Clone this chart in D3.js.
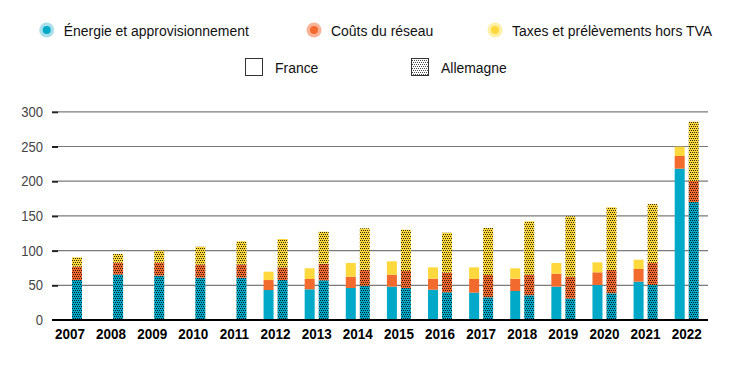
<!DOCTYPE html>
<html>
<head>
<meta charset="utf-8">
<script src="https://cdn.jsdelivr.net/npm/d3@7"></script>
<style>
  html, body { margin: 0; padding: 0; background: #ffffff; }
  text { font-family: "Liberation Sans", Arial, Helvetica, sans-serif; }
</style>
</head>
<body>
<script>
// ---------- DATA ----------
const years = [2007, 2008, 2009, 2010, 2011, 2012, 2013, 2014, 2015, 2016, 2017, 2018, 2019, 2020, 2021, 2022];
const countries = ["France", "Allemagne"];
const seriesNames = ["Énergie et approvisionnement", "Coûts du réseau", "Taxes et prélèvements hors TVA"];
const yTicks = [0, 50, 100, 150, 200, 250, 300];

// France (no data 2007-2011)
const franceEnergie = [null, null, null, null, null, 43.2, 44.2, 46.1, 48.0, 43.7, 39.4, 41.8, 48.0, 50.4, 55.2, 218.0];
const franceReseau  = [null, null, null, null, null, 14.4, 14.9, 16.3, 17.3, 15.8, 19.7, 17.7, 18.7, 18.3, 18.3, 18.3];
const franceTaxes   = [null, null, null, null, null, 12.0, 15.4, 19.7, 19.3, 16.4, 16.8, 15.0, 15.4, 14.4, 13.4, 13.4];

// Allemagne
const allemagneEnergie = [57.6, 65.3, 63.9, 61.0, 61.0, 57.6, 57.2, 49.4, 46.1, 39.9, 32.7, 35.6, 30.7, 38.5, 50.4, 170.0];
const allemagneReseau  = [19.2, 17.3, 18.7, 18.7, 19.2, 18.3, 23.9, 23.1, 24.5, 28.3, 32.1, 29.7, 31.7, 33.5, 31.7, 30.3];
const allemagneTaxes   = [13.5, 12.5, 17.3, 25.9, 33.2, 40.8, 46.1, 59.6, 59.5, 57.6, 67.8, 76.9, 87.0, 90.4, 85.0, 85.4];

// ---------- STYLE ----------
const colors = ["#00a9c7", "#f26a2e", "#ffd83d"];
const haloColors = ["#a9dfeb", "#f9b497", "#fff0a6"];
const condense = 0.93;

const W = 732, H = 365;
const svg = d3.select("body").append("svg").attr("width", W).attr("height", H);

// patterns for Allemagne (dotted, offset rows)
const defs = svg.append("defs");
const dotCells = [[0, 0], [2, 0], [1, 2], [3, 2]];
function makePattern(id, bg, op) {
  const p = defs.append("pattern").attr("id", id)
    .attr("patternUnits", "userSpaceOnUse").attr("width", 4).attr("height", 4);
  p.append("rect").attr("width", 4).attr("height", 4).attr("fill", bg);
  p.selectAll("rect.dot").data(dotCells).join("rect").attr("class", "dot")
    .attr("x", d => d[0]).attr("y", d => d[1]).attr("width", 1).attr("height", 1)
    .attr("fill", "#000").attr("fill-opacity", op);
}
colors.forEach((c, i) => makePattern("pat" + i, c, 0.8));
makePattern("patLegend", "#ffffff", 0.7);

// ---------- SCALES ----------
const y = d3.scaleLinear().domain([0, 300]).range([320, 111.8]);
const x0 = d3.scaleBand().domain(years).range([58, 698.7]).paddingInner(0.416).paddingOuter(0);
const x1 = d3.scaleBand().domain(countries).range([0, x0.bandwidth()]).paddingInner(4 / 14).paddingOuter(0);

// ---------- GRID + Y AXIS ----------
const gridG = svg.append("g");
gridG.selectAll("line.grid").data(yTicks.filter(d => d > 0)).join("line")
  .attr("class", "grid")
  .attr("x1", 58).attr("x2", 708)
  .attr("y1", d => y(d)).attr("y2", d => y(d))
  .attr("stroke", "#7a7a7a").attr("stroke-width", 1.2);

const yAxis = d3.axisLeft(y).tickValues(yTicks).tickSize(6).tickPadding(9).tickFormat(d3.format("d"));
const yG = svg.append("g").attr("transform", "translate(58,0)").call(yAxis);
yG.select(".domain").remove();
yG.selectAll(".tick line").attr("stroke", "#222").attr("stroke-width", 2);
yG.selectAll(".tick text").attr("fill", "#444").style("font-size", "14.5px")
  .style("font-family", '"Liberation Sans", Arial, sans-serif')
  .attr("x", -15 / 0.9).attr("transform", "scale(0.9,1)");
yG.selectAll(".tick").filter(d => d === 0).select("line").remove();

// ---------- BARS ----------
const rows = years.map((yr, i) => ({
  year: yr,
  France: [franceEnergie[i], franceReseau[i], franceTaxes[i]],
  Allemagne: [allemagneEnergie[i], allemagneReseau[i], allemagneTaxes[i]]
}));

const barsG = svg.append("g");
rows.forEach(r => {
  countries.forEach(c => {
    const vals = r[c];
    if (vals[0] == null) return;
    let cum = 0;
    vals.forEach((v, k) => {
      const y0 = cum, y1v = cum + v;
      cum = y1v;
      barsG.append("rect")
        .attr("x", x0(r.year) + x1(c))
        .attr("width", x1.bandwidth())
        .attr("y", y(y1v))
        .attr("height", y(y0) - y(y1v))
        .attr("fill", c === "France" ? colors[k] : "url(#pat" + k + ")");
    });
  });
});

// baseline
svg.append("line").attr("x1", 52).attr("x2", 708).attr("y1", y(0)).attr("y2", y(0))
  .attr("stroke", "#000").attr("stroke-width", 2);

// ---------- X AXIS ----------
const xAxis = d3.axisBottom(x0).tickSize(0).tickPadding(9);
const xG = svg.append("g").attr("transform", `translate(0,${y(0)})`).call(xAxis);
xG.select(".domain").remove();
xG.selectAll(".tick text").attr("fill", "#000").style("font-size", "14.5px").style("font-weight", "bold")
  .style("font-family", '"Liberation Sans", Arial, sans-serif')
  .attr("transform", "scale(0.93,1)");

// ---------- LEGEND ----------
const legend1X = [46.7, 314, 495];
const leg1 = svg.append("g");
seriesNames.forEach((name, i) => {
  leg1.append("circle").attr("cx", legend1X[i]).attr("cy", 30).attr("r", 7.5).attr("fill", haloColors[i]);
  leg1.append("circle").attr("cx", legend1X[i]).attr("cy", 30).attr("r", 4).attr("fill", colors[i]);
  leg1.append("text").attr("transform", `translate(${legend1X[i] + 17},35.5) scale(${condense},1)`).text(name)
    .attr("fill", "#111").style("font-size", "15px");
});

const legend2X = [245, 411];
countries.forEach((name, i) => {
  svg.append("rect").attr("x", legend2X[i] + 0.5).attr("y", 58.5).attr("width", 17).attr("height", 17)
    .attr("fill", i === 0 ? "#fff" : "url(#patLegend)").attr("stroke", "#333").attr("stroke-width", 1);
  svg.append("text").attr("transform", `translate(${legend2X[i] + 30},72.5) scale(${condense},1)`).text(name)
    .attr("fill", "#111").style("font-size", "15px");
});
</script>
</body>
</html>
